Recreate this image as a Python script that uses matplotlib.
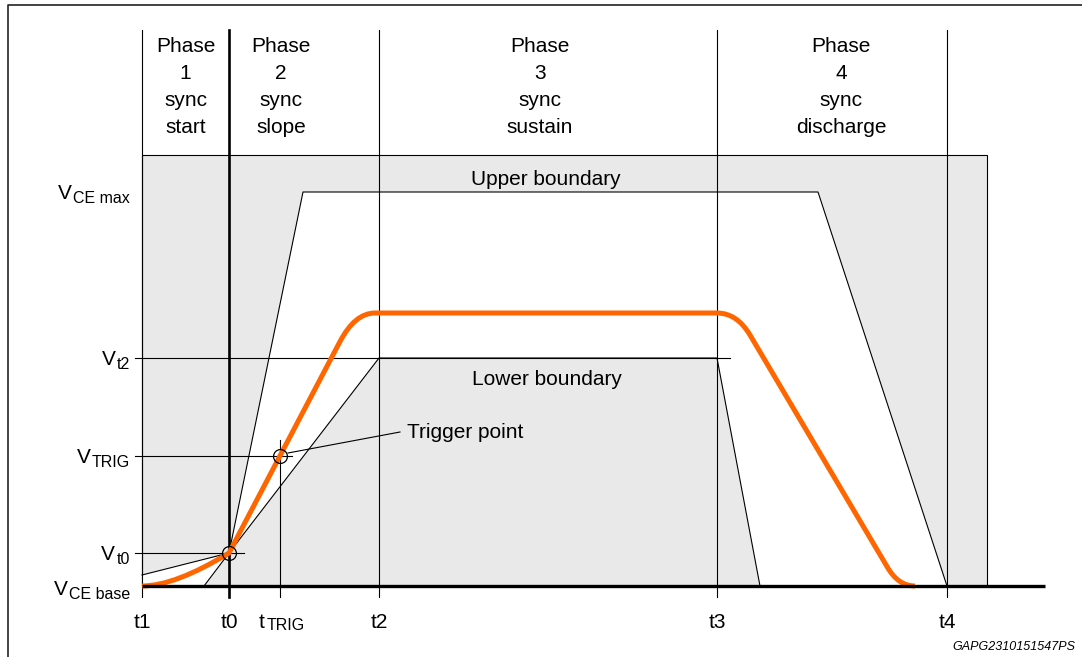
import numpy as np
import matplotlib
matplotlib.use("Agg")
import matplotlib.pyplot as plt
from matplotlib.path import Path
from matplotlib.patches import PathPatch

plt.rcParams["font.family"] = ["Liberation Sans", "DejaVu Sans"]

# time markers (arbitrary units, t1 = 0)
t_main = ["t1", "t0", "t", "t2", "t3", "t4"]
t_subs = ["", "", "TRIG", "", "", ""]
t_vals = [0.0, 8.7, 13.8, 23.7, 57.5, 80.5]
box_right = 84.5
base_right = 90.3

# voltage levels (arbitrary units, VCE base = 0)
v_subs = ["CE max", "t2", "TRIG", "t0", "CE base"]
v_vals = [39.4, 22.8, 13.0, 3.3, 0.0]
box_top = 43.1

# boundaries
upper_x = [0.0, 8.7, 16.1, 67.6, 80.5]
upper_y = [1.1, 3.3, 39.4, 39.4, 0.0]
lower_x = [6.2, 8.7, 23.7, 57.5, 61.8]
lower_y = [0.0, 3.3, 22.8, 22.8, 0.0]

# VCE waveform (quadratic-rounded corners)
orange_x = [0.0, 3.3, 8.7, 19.8, 21.3, 23.3, 57.5, 59.5, 60.8, 74.5, 75.6, 77.3]
orange_y = [0.0, 0.0, 3.3, 24.45, 27.3, 27.3, 27.3, 27.3, 25.1, 1.95, 0.0, 0.0]
orange_codes = [Path.MOVETO, Path.CURVE3, Path.CURVE3, Path.LINETO,
                Path.CURVE3, Path.CURVE3, Path.LINETO, Path.CURVE3, Path.CURVE3,
                Path.LINETO, Path.CURVE3, Path.CURVE3]

phases = [["Phase", "1", "sync", "start"],
          ["Phase", "2", "sync", "slope"],
          ["Phase", "3", "sync", "sustain"],
          ["Phase", "4", "sync", "discharge"]]
phase_x = [4.35, 13.9, 39.8, 69.9]
phase_rows = [53.4, 50.7, 48.0, 45.3]

FS = 15
SUB_FS = 11.5

fig = plt.figure(figsize=(10.82, 6.57), dpi=100)
ax = fig.add_axes([0, 0, 1, 1])
ax.set_xlim(-14.2, 94.0)
ax.set_ylim(-7.1, 58.6)
ax.set_axis_off()

# outer frame (cut by the picture edge)
ax.plot([-13.4, -13.4, 94.0], [-7.1, 58.1, 58.1], color="#222222", lw=1.2,
        clip_on=False, solid_capstyle="butt")

# gray tolerance box and white allowed area
ax.fill([0, box_right, box_right, 0], [0, 0, box_top, box_top],
        facecolor="#e9e9e9", edgecolor="black", lw=0.8, zorder=1)
wx = np.concatenate([[0.0], upper_x, lower_x[::-1]])
wy = np.concatenate([[0.0], upper_y, lower_y[::-1]])
ax.fill(wx, wy, facecolor="white", edgecolor="none", zorder=2)
ax.plot(upper_x, upper_y, color="black", lw=0.8, zorder=3)
ax.plot(lower_x, lower_y, color="black", lw=0.8, zorder=3)

# level lines
ax.plot([-0.7, 58.8], [v_vals[1]] * 2, color="black", lw=0.8, zorder=3)
ax.plot([-0.7, 15.0], [v_vals[2]] * 2, color="black", lw=0.8, zorder=3)
ax.plot([-0.7, 10.2], [v_vals[3]] * 2, color="black", lw=0.8, zorder=3)

# vertical time lines
for name, sub, t in zip(t_main, t_subs, t_vals):
    top = 14.6 if sub else 55.6
    lw = 1.9 if name == "t0" else 0.8
    ax.plot([t, t], [-1.1, top], color="black", lw=lw, zorder=4)

# baseline
ax.plot([0, base_right], [0, 0], color="black", lw=2.4, zorder=6,
        solid_capstyle="butt")

# waveform
path = Path(np.column_stack([orange_x, orange_y]), orange_codes)
ax.add_patch(PathPatch(path, facecolor="none", edgecolor="#ff6600", lw=3.6,
                       capstyle="butt", zorder=5))

# marked points
ax.plot([t_vals[1], t_vals[2]], [v_vals[3], v_vals[2]], "o", ms=10,
        mfc="none", mec="black", mew=0.9, zorder=7)
ax.plot([14.6, 25.8], [13.3, 15.4], color="black", lw=0.8, zorder=7)
ax.text(26.5, 14.8, "Trigger point", fontsize=FS, ha="left", va="baseline")

ax.text(40.4, 40.1, "Upper boundary", fontsize=FS, ha="center", va="baseline", zorder=8)
ax.text(40.5, 20.1, "Lower boundary", fontsize=FS, ha="center", va="baseline", zorder=8)

# phase headings
for px, rows in zip(phase_x, phases):
    for txt, ry in zip(rows, phase_rows):
        ax.text(px, ry, txt, fontsize=FS, ha="center", va="baseline")

# voltage labels: subscript right-aligned, "V" placed left of it
for sub, v in zip(v_subs, v_vals):
    yb = v - 0.9 if v == 0 else v - 0.7
    s = ax.annotate(sub, xy=(-1.2, yb), xytext=(0, -3), textcoords="offset points",
                    fontsize=SUB_FS, ha="right", va="baseline")
    ax.annotate("V", xy=(0, yb), xycoords=(s, "data"), xytext=(-1, 0),
                textcoords="offset points", fontsize=FS, ha="right", va="baseline")

# time labels
for name, sub, t in zip(t_main, t_subs, t_vals):
    if sub:
        m = ax.text(t - 2.1, -4.2, name, fontsize=FS, ha="left", va="baseline")
        ax.annotate(sub, xy=(1, -4.2), xycoords=(m, "data"), xytext=(1, -1.5),
                    textcoords="offset points", fontsize=SUB_FS, ha="left",
                    va="baseline")
    else:
        ax.text(t, -4.2, name, fontsize=FS, ha="center", va="baseline")

ax.text(93.3, -6.4, "GAPG2310151547PS", fontsize=9, style="italic",
        ha="right", va="baseline")

fig.savefig("out.png", dpi=100)
